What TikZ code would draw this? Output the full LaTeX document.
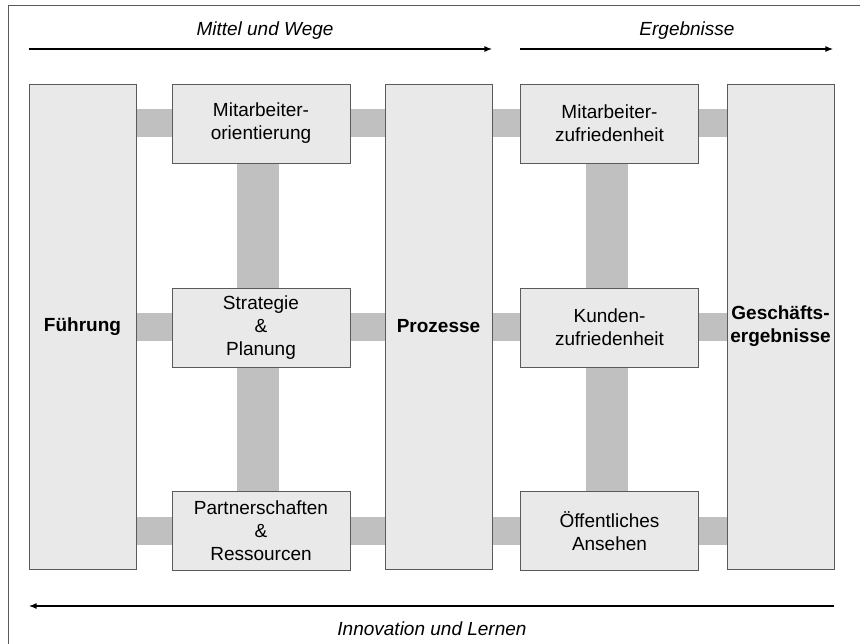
\documentclass[tikz,border=0pt]{standalone}
\usepackage{fontspec}
\setmainfont{Liberation Sans}
\usetikzlibrary{arrows.meta,backgrounds}
\definecolor{boxfill}{HTML}{E9E9E9}
\definecolor{boxline}{HTML}{5A5A5A}
\definecolor{barcol}{HTML}{C0C0C0}
\begin{document}
\begin{tikzpicture}[x=1pt,y=-1pt,
  every node/.style={font=\fontsize{19}{23}\selectfont},
  box/.style={draw=boxline, line width=0.9pt, fill=boxfill, align=center, inner sep=0pt},
  tall/.style={box, minimum width=107pt, minimum height=485pt, font=\fontsize{19}{23}\selectfont\bfseries},
  small/.style={box, minimum width=178pt, minimum height=79pt},
  hbar/.style={draw=barcol, line width=28pt},
  vbar/.style={draw=barcol, line width=42pt},
  flow/.style={line width=1.8pt, -{Latex[length=8pt,width=6pt]}},
  lab/.style={font=\fontsize{19}{23}\selectfont\itshape}]
\useasboundingbox (0,0) rectangle (860,644);
\draw[boxline, line width=1pt] (8,644) -- (8,6) -- (860,6);

% tall boxes
\node[tall] (fuehr) at (82.5,326.5) {Führung};
\node[tall] (proz) at (438.5,326.5) {Prozesse};
\node[tall] (gesch) at (780.5,326.5) {Geschäfts-\\ergebnisse};

% small boxes
\node[small] (mao) at (261,123.5) {Mitarbeiter-\\orientierung};
\node[small] (strat) at (261,327.5) {Strategie\\\&\\Planung};
\node[small] (partn) at (261,531) {Partnerschaften\\\&\\Ressourcen};
\node[small] (maz) at (609.5,123.5) {Mitarbeiter-\\zufriedenheit};
\node[small] (kund) at (609.5,327.5) {Kunden-\\zufriedenheit};
\node[small] (oeff) at (609.5,531) {Öffentliches\\Ansehen};

% connectors (gray bars) behind
\begin{scope}[on background layer]
  \draw[hbar] (fuehr.east |- mao) -- (mao.west);
  \draw[hbar] (mao.east) -- (proz.west |- mao);
  \draw[hbar] (fuehr.east |- strat) -- (strat.west);
  \draw[hbar] (strat.east) -- (proz.west |- strat);
  \draw[hbar] (fuehr.east |- partn) -- (partn.west);
  \draw[hbar] (partn.east) -- (proz.west |- partn);
  \draw[hbar] (proz.east |- maz) -- (maz.west);
  \draw[hbar] (maz.east) -- (gesch.west |- maz);
  \draw[hbar] (proz.east |- kund) -- (kund.west);
  \draw[hbar] (kund.east) -- (gesch.west |- kund);
  \draw[hbar] (proz.east |- oeff) -- (oeff.west);
  \draw[hbar] (oeff.east) -- (gesch.west |- oeff);
  \draw[vbar] ([xshift=-3pt]mao.south) -- ([xshift=-3pt]strat.north);
  \draw[vbar] ([xshift=-3pt]strat.south) -- ([xshift=-3pt]partn.north);
  \draw[vbar] ([xshift=-3pt]maz.south) -- ([xshift=-3pt]kund.north);
  \draw[vbar] ([xshift=-3pt]kund.south) -- ([xshift=-3pt]oeff.north);
\end{scope}

% flow arrows
\coordinate (a1s) at (fuehr.west |- 0,49);
\coordinate (a1e) at (proz.east |- 0,49);
\coordinate (a2s) at (maz.west |- 0,49);
\coordinate (a2e) at ([xshift=-1pt]gesch.east |- 0,49);
\coordinate (a3s) at (gesch.east |- 0,606);
\coordinate (a3e) at (fuehr.west |- 0,606);
\draw[flow] (a1s) -- (a1e);
\draw[flow] (a2s) -- (a2e);
\draw[flow] (a3s) -- (a3e);

\node[lab] (mw) at (265,31) {Mittel und Wege};
\node[lab] (erg) at (687,31) {Ergebnisse};
\node[lab] (inn) at (432,629) {Innovation und Lernen};
\end{tikzpicture}
\end{document}
